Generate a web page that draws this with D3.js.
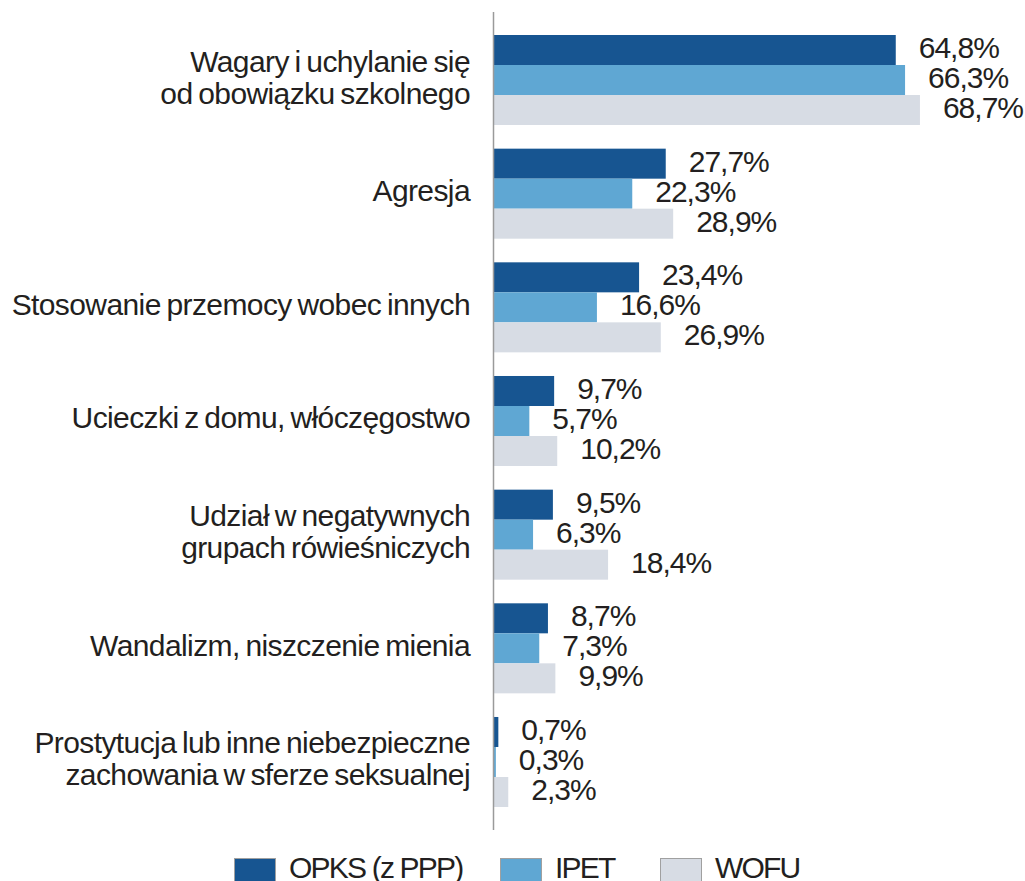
<!DOCTYPE html>
<html><head><meta charset="utf-8">
<script src="https://cdn.jsdelivr.net/npm/d3@7"></script>
<style>body{margin:0;background:#fff}svg{display:block}text{font-family:"Liberation Sans",Arial,sans-serif;fill:#231f20}</style>
</head><body><svg id="c" width="1025" height="881"></svg>
<script>
const categories = [
  ["Wagary i uchylanie się","od obowiązku szkolnego"],
  ["Agresja"],
  ["Stosowanie przemocy wobec innych"],
  ["Ucieczki z domu, włóczęgostwo"],
  ["Udział w negatywnych","grupach rówieśniczych"],
  ["Wandalizm, niszczenie mienia"],
  ["Prostytucja lub inne niebezpieczne","zachowania w sferze seksualnej"]
];
const seriesNames = ["OPKS (z PPP)","IPET","WOFU"];
const opks = [64.8, 27.7, 23.4, 9.7, 9.5, 8.7, 0.7];
const ipet = [66.3, 22.3, 16.6, 5.7, 6.3, 7.3, 0.3];
const wofu = [68.7, 28.9, 26.9, 10.2, 18.4, 9.9, 2.3];
const colors = ["#175591","#5fa7d3","#d7dce4"];

const series = [opks, ipet, wofu];
const svg = d3.select("#c");
const idx = d3.range(categories.length);
const y = d3.scaleBand().domain(idx).range([35, 807]).paddingInner(0.208).paddingOuter(0);
const ys = d3.scaleBand().domain([0,1,2]).range([0, y.bandwidth()]);
const x = d3.scaleLinear().domain([0, 100]).range([494, 1114]);
const fmt = v => d3.format(".1f")(v).replace(".", ",") + "%";

const g = svg.selectAll("g.grp").data(idx).join("g").attr("class","grp")
  .attr("transform", i => `translate(0,${y(i)})`);
series.forEach((s, si) => {
  g.append("rect").attr("x", x(0)).attr("y", ys(si))
    .attr("width", i => x(s[i]) - x(0)).attr("height", ys.bandwidth())
    .attr("fill", colors[si]);
  g.append("text").attr("x", i => x(s[i]) + 23).attr("y", ys(si) + ys.bandwidth()/2 + 8)
    .attr("font-size", 30).attr("letter-spacing", -1)
    .text(i => fmt(s[i]));
});
// category labels
g.each(function(i){
  const lines = categories[i];
  const n = lines.length;
  const t = d3.select(this).append("text").attr("text-anchor","end")
    .attr("font-size", 30).attr("letter-spacing", -0.6).attr("word-spacing", -2);
  lines.forEach((l, li) => {
    t.append("tspan").attr("x", 470)
      .attr("y", y.bandwidth()/2 + 7.5 + (li - (n-1)/2) * 32)
      .text(l);
  });
});
// axis line
svg.append("line").attr("x1", 493.5).attr("x2", 493.5).attr("y1", 12).attr("y2", 830)
  .attr("stroke", "#9a9a9a").attr("stroke-width", 1.5);
// legend
const legX = [234, 500, 660];
const lg = svg.selectAll("g.leg").data(seriesNames).join("g").attr("class","leg")
  .attr("transform", (d,i) => `translate(${legX[i]},858)`);
lg.append("rect").attr("x",0.5).attr("y",0.5).attr("width",41).attr("height",26)
  .attr("fill",(d,i)=>colors[i]).attr("stroke","#a0a0a0").attr("stroke-width",1);
lg.append("text").attr("x", 55).attr("y", 20)
  .attr("font-size", 30).attr("letter-spacing", -1.8).text(d => d);
</script></body></html>
